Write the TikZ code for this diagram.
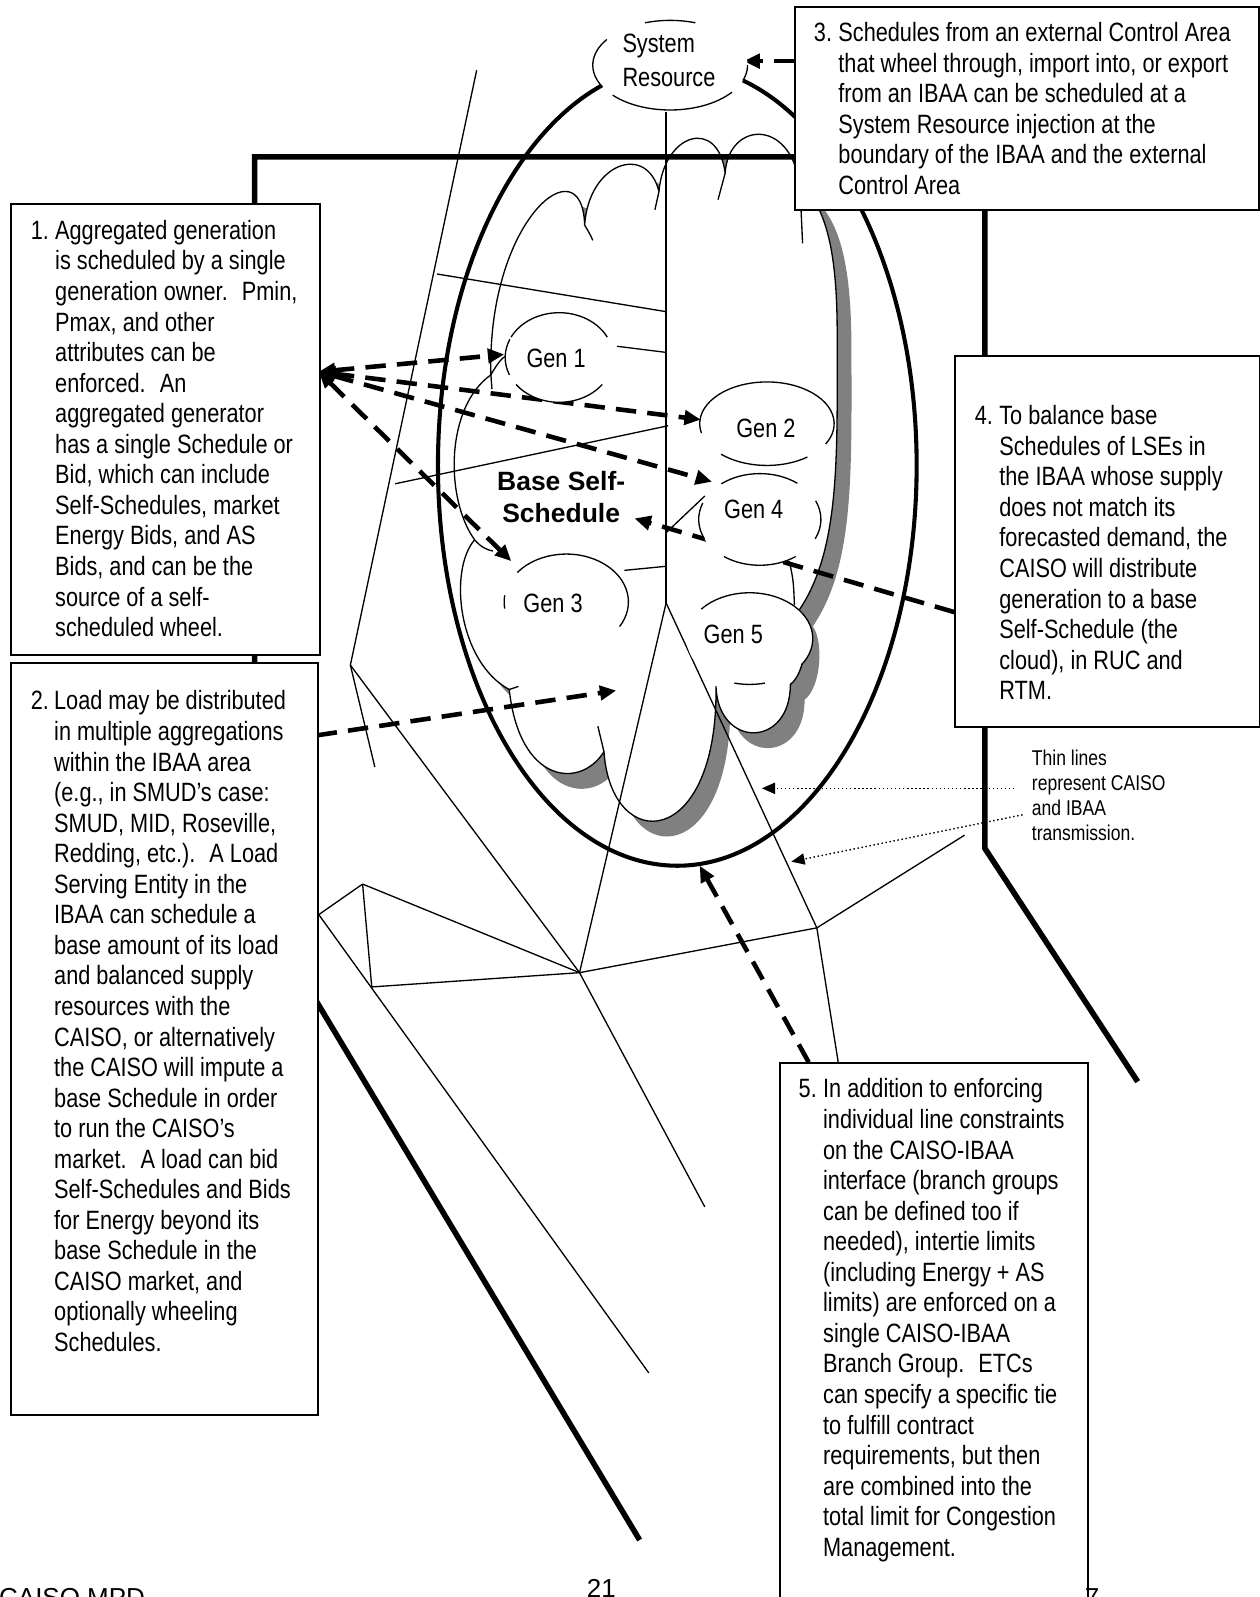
\documentclass[tikz,border=0pt]{standalone}
\usepackage{fontspec}
\setmainfont{Liberation Sans}
\newfontfamily\narrowfont{Liberation Sans}[FakeStretch=0.82]
\usetikzlibrary{arrows.meta}
\newcommand\genarc[6]{\draw[thinl] (#1,#2) ++(#5:#3 and #4) arc[start angle=#5, end angle=#6, x radius=#3, y radius=#4];}
\definecolor{shadowgray}{HTML}{808080}
\def\cloudpath{(482,368) .. controls (478,215) and (572,140) .. (574,221)
 .. controls (578,160) and (635,140) .. (647,188)
 .. controls (652,130) and (705,115) .. (712,170)
 .. controls (715,120) and (775,115) .. (785,180)
 .. controls (815,205) and (822,260) .. (822,330)
 .. controls (822,450) and (825,540) .. (784,600)
 .. controls (795,615) and (792,660) .. (776,672)
 .. controls (776,735) and (705,735) .. (703,674)
 .. controls (705,835) and (600,840) .. (593,738)
 .. controls (570,775) and (510,770) .. (500,677)
 .. controls (450,650) and (440,560) .. (466,530)
 .. controls (437,490) and (437,400) .. (482,368) -- cycle}
\begin{document}
\begin{tikzpicture}[x=1pt,y=-1pt,
  thinl/.style={line width=1.3pt, line join=round},
  heavy/.style={line width=5.5pt, line join=miter},
  ibaa/.style={line width=4pt},
  boxst/.style={draw, line width=1.8pt, fill=white, rectangle, inner sep=0pt, anchor=north west},
  dashar/.style={line width=4.5pt, dash pattern=on 20pt off 11pt},
  oneway/.style={arrows={-Triangle[length=16pt,width=14pt]}},
  twoway/.style={arrows={Triangle[length=16pt,width=14pt]-Triangle[length=16pt,width=14pt]}},
  dotar/.style={line width=1.4pt, dash pattern=on 1.4pt off 2.6pt, arrows={-Triangle[length=13pt,width=11pt]}},
  boxtext/.style={anchor=base west, inner sep=0pt, font=\narrowfont\fontsize{26}{30}\selectfont},
  gentext/.style={inner sep=0pt, font=\narrowfont\fontsize{26}{30}\selectfont},
  foot/.style={anchor=base west, inner sep=0pt, font=\fontsize{25.5}{30}\selectfont}
]
\useasboundingbox (0,0) rectangle (1237,1568);
\fill[white] (0,0) rectangle (1237,1568);
\clip (0,0) rectangle (1237,1568);

% ---- cloud (Base Self-Schedule) ----
\fill[shadowgray, shift={(14,15)}] \cloudpath;
\filldraw[thinl, fill=white] \cloudpath;
\draw[thinl] (482,368) -- (483,382);
\draw[thinl] (482,368) .. controls (487,359) and (492,352) .. (497,349);
\draw[thinl] (574,221) .. controls (577,226) and (580,231) .. (582,236);
\draw[thinl] (647,188) -- (643,206);
\draw[thinl] (712,170) -- (705,196);
\draw[thinl] (786,195) -- (788,239);
\draw[thinl] (466,530) .. controls (472,537) and (478,540) .. (484,541);
\draw[thinl] (500,677) -- (509,674);
\draw[thinl] (593,738) -- (587,713);

% ---- heavy boundary lines ----
\draw[heavy] (628,1512) -- (250,882) -- (250,154) -- (967,154) -- (967,833) -- (1117,1062);
% ---- IBAA ellipse ----
\draw[ibaa] (665,457) ellipse [x radius=235, y radius=393];

% ---- thin transmission lines ----
\coordinate (la) at (468,69);
\coordinate (pa) at (344,653);
\coordinate (lb) at (368,753);
\coordinate (H) at (569,955);
\coordinate (vt) at (654,110);
\coordinate (vb) at (654,592);
\coordinate (J2) at (802,911);
\coordinate (jr) at (947,820);
\coordinate (jd) at (823,1043);
\coordinate (P0) at (313,898);
\coordinate (P1) at (356,868);
\coordinate (P2) at (365,969);
\coordinate (E1) at (637,1348);
\coordinate (E2) at (692,1185);
\draw[thinl] (la) -- (pa) -- (lb);
\draw[thinl] (pa) -- (H);
\draw[thinl] (429,269) -- (654,306);
\draw[thinl] (606,340) -- (654,346);
\draw[thinl] (388,475) -- (656,418);
\draw[thinl] (613,560) -- (654,556);
\draw[thinl] (654,523) -- (692,487);
\draw[thinl] (775,551) .. controls (779,570) .. (780,594);
\draw[thinl] (vt) -- (vb);
\draw[thinl] (vb) -- (H);
\draw[thinl] (vb) -- (J2);
\draw[thinl] (J2) -- (jr);
\draw[thinl] (J2) -- (jd);
\draw[thinl] (J2) -- (H);
\draw[thinl] (H) -- (P1);
\draw[thinl] (H) -- (P2);
\draw[thinl] (P1) -- (P2);
\draw[thinl] (P0) -- (P1);
\draw[thinl] (P0) -- (E1);
\draw[thinl] (H) -- (E2);

% ---- dashed arrows ----
\coordinate (b1p) at (313,365);
\coordinate (g1p) at (495,348);
\coordinate (g2p) at (688,412);
\coordinate (g4p) at (699,473);
\coordinate (g3p) at (502,551);
\coordinate (b2p) at (311,722);
\coordinate (a2t) at (605,678);
\coordinate (b4p) at (937,601);
\coordinate (a3t) at (623,509);
\coordinate (b3p) at (780,60);
\coordinate (srp) at (730,60);
\coordinate (b5p) at (794,1043);
\coordinate (a5t) at (687,850);
\draw[dashar, twoway] (b1p) -- (g1p);
\draw[dashar, twoway] (b1p) -- (g2p);
\draw[dashar, twoway] (b1p) -- (g4p);
\draw[dashar, twoway] (b1p) -- (g3p);
\draw[dashar, oneway] (b2p) -- (a2t);
\draw[dashar, oneway] (b4p) -- (a3t);
\draw[dashar, oneway] (b3p) -- (srp);
\draw[dashar, oneway] (b5p) -- (a5t);

% ---- generators ----
\fill[white] (549,351) ellipse [x radius=53, y radius=44];
\genarc{549}{351}{53}{44}{207}{333}
\genarc{549}{351}{53}{44}{37}{143}
\genarc{549}{351}{53}{44}{157}{204}
\node[gentext] (gen1) at (546,352) {Gen 1};

\fill[white] (753,416) ellipse [x radius=66, y radius=41];
\genarc{753}{416}{66}{41}{167}{389}
\genarc{753}{416}{66}{41}{53}{133}
\node[gentext] (gen2) at (752,421) {Gen 2};

\fill[white] (746,510) ellipse [x radius=60, y radius=45];
\genarc{746}{510}{60}{45}{231}{308}
\genarc{746}{510}{60}{45}{155}{201}
\genarc{746}{510}{60}{45}{336}{385}
\genarc{746}{510}{60}{45}{54}{126}
\node[gentext] (gen4) at (740,500) {Gen 4};

\fill[white] (556,591) ellipse [x radius=61, y radius=47];
\genarc{556}{591}{61}{47}{218}{391}
\genarc{556}{591}{61}{47}{172}{188}
\node[gentext] (gen3) at (543,592) {Gen 3};

\fill[white] (736,627) ellipse [x radius=62, y radius=45];
\genarc{736}{627}{62}{45}{220}{395}
\genarc{736}{627}{62}{45}{76}{104}
\node[gentext] (gen5) at (720,623) {Gen 5};

% ---- System Resource ----
\fill[white] (658,64) ellipse [x radius=76, y radius=44];
\genarc{658}{64}{76}{44}{251}{289}
\genarc{658}{64}{76}{44}{151}{215}
\genarc{658}{64}{76}{44}{37}{138}
\genarc{658}{64}{76}{44}{0}{20}
\node[anchor=base west, inner sep=0pt, font=\narrowfont\fontsize{26}{32.5}\selectfont] (sr) at (611,52)
  {\begin{tabular}[t]{@{}l@{}}System\\Resource\end{tabular}};

% ---- Base Self-Schedule ----
\node[anchor=base, inner sep=0pt, font=\bfseries\fontsize{26}{30.6}\selectfont] (bss) at (551,482)
  {\begin{tabular}[t]{@{}c@{}}Base Self-\\Schedule\end{tabular}};

% ---- dotted arrows ----
\coordinate (d1s) at (996,774);
\coordinate (d1t) at (748,774);
\coordinate (d2s) at (1004,800);
\coordinate (d2t) at (777,846);
\draw[dotar] (d1s) -- (d1t);
\draw[dotar] (d2s) -- (d2t);

% ---- text boxes ----
\node[boxst, minimum width=303pt, minimum height=443pt] (box1) at (10,199) {};
\node[boxtext] (t1) at (30,235) {\begin{tabular}[t]{@{}l@{}l@{}}\makebox[24pt][l]{1.}&Aggregated generation\\
&is scheduled by a single\\
&generation owner. \ Pmin,\\
&Pmax, and other\\
&attributes can be\\
&enforced. \ An\\
&aggregated generator\\
&has a single Schedule or\\
&Bid, which can include\\
&Self-Schedules, market\\
&Energy Bids, and AS\\
&Bids, and can be the\\
&source of a self-\\
&scheduled wheel.\end{tabular}};

\node[boxst, minimum width=301pt, minimum height=738pt] (box2) at (10,650) {};
\node[boxtext] (t2) at (30,697) {\begin{tabular}[t]{@{}l@{}l@{}}\makebox[23pt][l]{2.}&Load may be distributed\\
&in multiple aggregations\\
&within the IBAA area\\
&(e.g., in SMUD’s case:\\
&SMUD, MID, Roseville,\\
&Redding, etc.). \ A Load\\
&Serving Entity in the\\
&IBAA can schedule a\\
&base amount of its load\\
&and balanced supply\\
&resources with the\\
&CAISO, or alternatively\\
&the CAISO will impute a\\
&base Schedule in order\\
&to run the CAISO’s\\
&market. \ A load can bid\\
&Self-Schedules and Bids\\
&for Energy beyond its\\
&base Schedule in the\\
&CAISO market, and\\
&optionally wheeling\\
&Schedules.\end{tabular}};

\node[boxst, minimum width=455pt, minimum height=199pt] (box3) at (780,6) {};
\node[boxtext] (t3) at (799,41) {\begin{tabular}[t]{@{}l@{}l@{}}\makebox[24pt][l]{3.}&Schedules from an external Control Area\\
&that wheel through, import into, or export\\
&from an IBAA can be scheduled at a\\
&System Resource injection at the\\
&boundary of the IBAA and the external\\
&Control Area\end{tabular}};

\node[boxst, minimum width=299pt, minimum height=364pt] (box4) at (937,349) {};
\node[boxtext] (t4) at (957,417) {\begin{tabular}[t]{@{}l@{}l@{}}\makebox[24pt][l]{4.}&To balance base\\
&Schedules of LSEs in\\
&the IBAA whose supply\\
&does not match its\\
&forecasted demand, the\\
&CAISO will distribute\\
&generation to a base\\
&Self-Schedule (the\\
&cloud), in RUC and\\
&RTM.\end{tabular}};

\node[boxst, minimum width=302pt, minimum height=600pt] (box5) at (765,1043) {};
\node[boxtext] (t5) at (784,1078) {\begin{tabular}[t]{@{}l@{}l@{}}\makebox[24pt][l]{5.}&In addition to enforcing\\
&individual line constraints\\
&on the CAISO-IBAA\\
&interface (branch groups\\
&can be defined too if\\
&needed), intertie limits\\
&(including Energy + AS\\
&limits) are enforced on a\\
&single CAISO-IBAA\\
&Branch Group. \ ETCs\\
&can specify a specific tie\\
&to fulfill contract\\
&requirements, but then\\
&are combined into the\\
&total limit for Congestion\\
&Management.\end{tabular}};

% ---- label for thin lines ----
\node[anchor=base west, inner sep=0pt, font=\narrowfont\fontsize{21}{24.3}\selectfont] (thinlbl) at (1013,752)
  {\begin{tabular}[t]{@{}l@{}}Thin lines\\represent CAISO\\and IBAA\\transmission.\end{tabular}};

% ---- footer (cut by the page edge, as in the original) ----
\node[foot] (ftl) at (-1,1577) {CAISO MPD};
\node[foot] (ftc) at (576,1568) {21};
\node[foot] (ftr) at (1065,1577) {7};
\end{tikzpicture}
\end{document}
